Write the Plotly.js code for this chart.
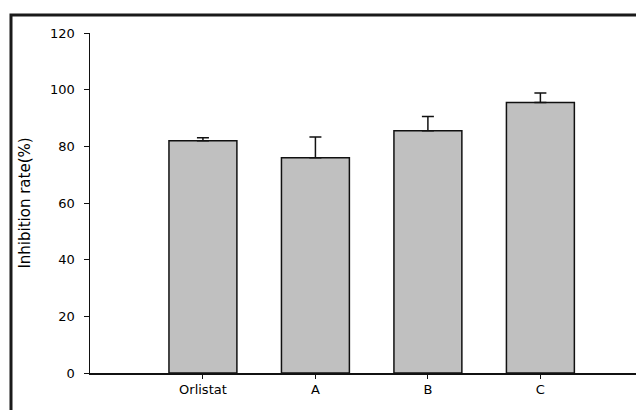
<!DOCTYPE html>
<html>
<head>
<meta charset="utf-8">
<script src="https://cdn.plot.ly/plotly-3.0.1.min.js"></script>
<style>html,body{margin:0;padding:0;background:#fff;}#chart{width:636px;height:410px;}</style>
</head>
<body>
<div id="chart"></div>
<script>
const categories = ["Orlistat", "A", "B", "C"];
const values = [82.0, 76.0, 85.5, 95.5];
const errors = [1.0, 7.3, 5.0, 3.3];
const yTicks = [0, 20, 40, 60, 80, 100, 120];

const trace = {
  type: "bar",
  x: categories,
  y: values,
  marker: {color: "#c0c0c0", line: {color: "#111", width: 1.5}},
  error_y: {type: "data", array: errors, symmetric: false, arrayminus: errors.map(() => 0), visible: true, color: "#111", thickness: 1.5, width: 6},
  hoverinfo: "none"
};

const font = {family: "DejaVu Sans, Arial, sans-serif", size: 13, color: "#000"};

const layout = {
  width: 636, height: 410,
  margin: {l: 90, r: 0, t: 33, b: 37, pad: 0},
  paper_bgcolor: "#fff", plot_bgcolor: "#fff",
  showlegend: false,
  bargap: 0.396,
  font: font,
  xaxis: {
    type: "category",
    range: [-1.004, 3.85],
    showline: true, linecolor: "#111", linewidth: 1.5,
    ticks: "outside", ticklen: 4, tickwidth: 1, tickcolor: "#111",
    showgrid: false, zeroline: false,
    tickfont: font
  },
  yaxis: {
    range: [0, 120],
    tickvals: yTicks,
    showline: true, linecolor: "#111", linewidth: 1.5,
    ticks: "outside", ticklen: 5, tickwidth: 1, tickcolor: "#111",
    ticklabelstandoff: 6,
    showgrid: false, zeroline: false,
    tickfont: font,
    title: {text: "Inhibition rate(%)", font: {family: "DejaVu Sans, Arial, sans-serif", size: 15, color: "#000"}, standoff: 16}
  },
  shapes: [{
    type: "rect", xref: "paper", yref: "paper",
    x0: -0.1447, x1: 1.1, y0: -0.3, y1: 1.0529,
    line: {color: "#1a1a1a", width: 3}, fillcolor: "rgba(0,0,0,0)"
  }]
};

Plotly.newPlot("chart", [trace], layout, {staticPlot: true, displayModeBar: false});
</script>
</body>
</html>
